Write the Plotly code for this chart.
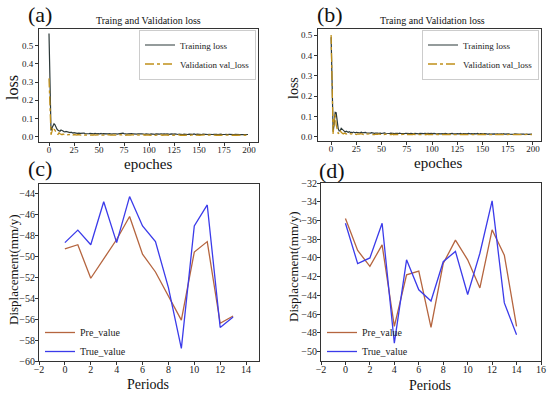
import plotly.graph_objects as go

W, H = 550, 399

# ---------------- data ----------------
epochs = list(range(200))

train_a = [.565,.210,.035,.048,.060,.072,.066,.050,.042,.036,.033,.031,.038,.037,.032,.029,.027,.030,.028,.025,
           .024,.023,.026,.022,.021,.023,.020,.021,.019,.021,.020,.019,.020,.018,.019,.021,.018,.017,.019,.018,
           .017,.019,.018,.016,.018,.017,.019,.016,.017,.018,.016,.017,.019,.016,.018,.017,.016,.018,.017,.016,
           .018,.016,.017,.015,.017,.018,.016,.017,.015,.016,.018,.016,.017,.019,.020,.018,.016,.017,.015,.016,
           .017,.015,.016,.018,.016,.015,.017,.016,.015,.017,.016,.014,.016,.017,.015,.016,.014,.016,.015,.017,
           .015,.014,.016,.015,.017,.015,.014,.016,.015,.014,.016,.015,.017,.014,.015,.016,.014,.015,.016,.014,
           .015,.014,.016,.015,.013,.015,.016,.014,.015,.013,.015,.014,.016,.014,.013,.015,.014,.016,.014,.013,
           .015,.014,.013,.015,.014,.016,.014,.013,.015,.014,.013,.015,.014,.013,.015,.014,.013,.014,.015,.013,
           .014,.013,.015,.014,.013,.014,.015,.013,.014,.012,.014,.013,.015,.013,.012,.014,.013,.014,.012,.013,
           .014,.013,.012,.014,.013,.012,.014,.013,.012,.013,.014,.012,.013,.012,.014,.013,.012,.013,.012,.013]

val_a = [.320,.090,.012,.030,.052,.045,.032,.022,.016,.013,.022,.017,.014,.012,.016,.013,.011,.014,.012,.011,
         .013,.011,.014,.012,.010,.013,.011,.012,.010,.013,.011,.012,.010,.011,.013,.010,.012,.011,.010,.012,
         .011,.010,.012,.011,.009,.012,.010,.011,.013,.010,.011,.009,.012,.010,.011,.012,.010,.009,.011,.010,
         .012,.010,.011,.009,.010,.012,.011,.010,.009,.011,.010,.012,.010,.011,.013,.011,.010,.009,.011,.010,
         .011,.009,.010,.012,.010,.009,.011,.010,.012,.009,.010,.011,.009,.010,.012,.010,.009,.011,.010,.009,
         .011,.010,.009,.011,.012,.010,.009,.011,.010,.009,.011,.010,.012,.009,.010,.011,.009,.010,.011,.009,
         .010,.009,.011,.010,.009,.011,.010,.009,.011,.010,.012,.009,.010,.011,.009,.010,.009,.011,.010,.009,
         .011,.009,.010,.011,.009,.010,.012,.010,.009,.011,.010,.009,.010,.011,.009,.010,.011,.009,.010,.009,
         .010,.011,.009,.010,.009,.011,.010,.009,.010,.011,.009,.010,.009,.011,.010,.009,.010,.011,.009,.010,
         .009,.011,.010,.009,.010,.011,.009,.010,.009,.010,.011,.009,.010,.009,.011,.010,.009,.010,.011,.010]

train_b = [.490,.310,.025,.060,.120,.118,.075,.040,.028,.030,.042,.036,.030,.026,.023,.027,.024,.022,.025,.021,
           .022,.020,.023,.021,.019,.022,.020,.021,.019,.020,.022,.019,.020,.018,.021,.019,.018,.020,.019,.018,
           .020,.018,.019,.017,.018,.020,.018,.017,.019,.018,.016,.018,.017,.019,.017,.016,.018,.017,.016,.018,
           .017,.016,.018,.016,.017,.015,.017,.016,.018,.016,.015,.017,.016,.015,.017,.016,.018,.015,.016,.017,
           .015,.016,.014,.016,.015,.017,.015,.014,.016,.015,.014,.016,.015,.017,.014,.015,.016,.014,.015,.016,
           .014,.015,.016,.014,.015,.013,.015,.014,.016,.014,.015,.013,.014,.016,.014,.015,.013,.014,.015,.014,
           .016,.014,.013,.015,.014,.015,.013,.014,.016,.014,.013,.015,.014,.013,.015,.014,.016,.013,.014,.015,
           .013,.014,.015,.013,.014,.016,.014,.013,.015,.014,.013,.014,.015,.013,.014,.013,.015,.014,.013,.014,
           .015,.013,.014,.013,.015,.014,.013,.014,.012,.014,.013,.015,.013,.014,.012,.013,.014,.013,.012,.014,
           .013,.012,.014,.013,.012,.014,.013,.012,.013,.014,.012,.013,.012,.014,.013,.012,.013,.014,.012,.013]

val_b = [.500,.150,.010,.080,.110,.060,.025,.015,.020,.032,.022,.016,.014,.018,.015,.013,.016,.014,.012,.015,
         .013,.015,.012,.014,.013,.011,.014,.012,.013,.015,.012,.013,.011,.014,.012,.013,.011,.012,.014,.012,
         .011,.013,.012,.010,.013,.011,.012,.014,.011,.012,.010,.013,.011,.012,.010,.012,.013,.011,.010,.012,
         .011,.013,.010,.012,.011,.010,.012,.011,.013,.010,.011,.012,.010,.011,.013,.010,.012,.011,.010,.012,
         .010,.011,.013,.010,.011,.012,.010,.011,.010,.012,.011,.010,.012,.011,.010,.013,.011,.010,.012,.010,
         .011,.010,.012,.011,.010,.012,.010,.011,.013,.010,.011,.010,.012,.011,.010,.011,.012,.010,.011,.010,
         .012,.010,.011,.010,.012,.011,.010,.012,.010,.011,.010,.012,.011,.010,.011,.012,.010,.011,.010,.012,
         .010,.011,.012,.010,.011,.010,.012,.011,.010,.011,.010,.012,.010,.011,.010,.012,.011,.010,.011,.010,
         .011,.010,.012,.010,.011,.010,.011,.012,.010,.011,.010,.011,.010,.012,.011,.010,.011,.010,.012,.010,
         .011,.010,.011,.012,.010,.011,.010,.011,.010,.012,.011,.010,.011,.010,.011,.012,.010,.011,.010,.011]

periods_c = list(range(14))
pre_c  = [-49.3, -48.9, -52.1, -50.2, -48.4, -46.2, -49.8, -51.5, -53.8, -56.1, -49.6, -48.6, -56.4, -55.7]
true_c = [-48.7, -47.5, -48.9, -44.8, -48.7, -44.3, -47.1, -48.6, -53.0, -58.8, -47.1, -45.1, -56.8, -55.8]

periods_d = list(range(15))
pre_d  = [-35.8, -39.2, -40.9, -38.6, -47.3, -41.8, -41.4, -47.4, -40.6, -38.1, -40.2, -43.2, -37.0, -39.7, -47.3]
true_d = [-36.3, -40.6, -40.0, -36.3, -49.1, -40.2, -43.4, -44.6, -40.4, -39.3, -43.9, -39.5, -33.9, -44.8, -48.2]

loss_xticks = [0, 25, 50, 75, 100, 125, 150, 175, 200]
loss_yticks = [0.0, 0.1, 0.2, 0.3, 0.4, 0.5]
c_xticks = list(range(-2, 15, 2))
c_yticks = list(range(-60, -43, 2))
d_xticks = list(range(-2, 17, 2))
d_yticks = list(range(-50, -31, 2))

# ---------------- style ----------------
FONT = "Liberation Serif, Times New Roman, serif"
C_TRAIN = "#2b3838"
C_VAL = "#c0901a"
C_PRE = "#b5653f"
C_TRUE = "#3b3bea"
FRAME = "#333333"

def px(x): return x / W
def py(y): return 1 - y / H

fig = go.Figure()

fig.add_trace(go.Scatter(x=epochs, y=train_a, mode="lines", name="Training loss",
                         line=dict(color=C_TRAIN, width=1.2), xaxis="x", yaxis="y", legend="legend"))
fig.add_trace(go.Scatter(x=epochs, y=val_a, mode="lines", name="Validation val_loss",
                         line=dict(color=C_VAL, width=1.3, dash="dashdot"), xaxis="x", yaxis="y", legend="legend"))
fig.add_trace(go.Scatter(x=epochs, y=train_b, mode="lines", name="Training loss",
                         line=dict(color=C_TRAIN, width=1.2), xaxis="x2", yaxis="y2", legend="legend2"))
fig.add_trace(go.Scatter(x=epochs, y=val_b, mode="lines", name="Validation val_loss",
                         line=dict(color=C_VAL, width=1.3, dash="dashdot"), xaxis="x2", yaxis="y2", legend="legend2"))
fig.add_trace(go.Scatter(x=periods_c, y=pre_c, mode="lines", name="Pre_value",
                         line=dict(color=C_PRE, width=1.3), xaxis="x3", yaxis="y3", legend="legend3"))
fig.add_trace(go.Scatter(x=periods_c, y=true_c, mode="lines", name="True_value",
                         line=dict(color=C_TRUE, width=1.3), xaxis="x3", yaxis="y3", legend="legend3"))
fig.add_trace(go.Scatter(x=periods_d, y=pre_d, mode="lines", name="Pre_value",
                         line=dict(color=C_PRE, width=1.3), xaxis="x4", yaxis="y4", legend="legend4"))
fig.add_trace(go.Scatter(x=periods_d, y=true_d, mode="lines", name="True_value",
                         line=dict(color=C_TRUE, width=1.3), xaxis="x4", yaxis="y4", legend="legend4"))

def ax(domain, rng, ticks, anchor, size, standoff, fmt=None):
    d = dict(domain=domain, range=rng, tickvals=ticks, anchor=anchor, automargin=False,
             showgrid=False, zeroline=False, showline=True, mirror=True,
             linecolor=FRAME, linewidth=1, ticks="outside", ticklen=3,
             ticklabelstandoff=standoff,
             tickcolor=FRAME, tickwidth=1, tickfont=dict(family=FONT, size=size, color="#222"))
    if fmt:
        d["tickformat"] = fmt
    return d

fig.update_layout(
    width=W, height=H, margin=dict(l=0, r=0, t=0, b=0, pad=0, autoexpand=False),
    paper_bgcolor="white", plot_bgcolor="white",
    xaxis=ax([px(39), px(258)], [-10, 209], loss_xticks, "y", 9, -4),
    yaxis=ax([py(142), py(29)], [-0.028, 0.59], loss_yticks, "x", 9, 0, ".1f"),
    xaxis2=ax([px(318), px(541)], [-13, 208], loss_xticks, "y2", 9, -4),
    yaxis2=ax([py(141), py(29)], [-0.021, 0.53], loss_yticks, "x2", 9, 0, ".1f"),
    xaxis3=ax([px(39), px(259)], [-2, 15], c_xticks, "y3", 10, -4),
    yaxis3=ax([py(361), py(184)], [-60, -43.1], c_yticks, "x3", 10, -2),
    xaxis4=ax([px(321), px(541)], [-2, 16], d_xticks, "y4", 10, -4),
    yaxis4=ax([py(361), py(183)], [-51, -32], d_yticks, "x4", 10, -2),
    legend=dict(x=px(256), y=py(29.5), xanchor="right", yanchor="top",
                bordercolor="#cccccc", borderwidth=1, bgcolor="rgba(255,255,255,0.85)",
                font=dict(family=FONT, size=9, color="#222"), tracegroupgap=0),
    legend2=dict(x=px(539), y=py(29.5), xanchor="right", yanchor="top",
                 bordercolor="#cccccc", borderwidth=1, bgcolor="rgba(255,255,255,0.85)",
                 font=dict(family=FONT, size=9, color="#222"), tracegroupgap=0),
    legend3=dict(x=px(40), y=py(318), xanchor="left", yanchor="top",
                 bgcolor="rgba(0,0,0,0)", borderwidth=0,
                 font=dict(family=FONT, size=10, color="#222"), tracegroupgap=0),
    legend4=dict(x=px(322), y=py(318), xanchor="left", yanchor="top",
                 bgcolor="rgba(0,0,0,0)", borderwidth=0,
                 font=dict(family=FONT, size=10, color="#222"), tracegroupgap=0),
    showlegend=True,
)

def note(text, x, y, size, angle=0):
    fig.add_annotation(text=text, x=px(x), y=py(y), xref="paper", yref="paper",
                       xanchor="center", yanchor="middle", showarrow=False, textangle=angle,
                       font=dict(family=FONT, size=size, color="#111"))

note("(a)", 40, 14, 22)
note("(b)", 330, 14, 22)
note("(c)", 40, 168, 22)
note("(d)", 332, 170, 22)
note("Traing and Validation loss", 148, 21, 10)
note("Traing and Validation loss", 432, 21, 10)
note("loss", 12, 88, 16, -90)
note("loss", 293, 88, 14, -90)
note("epoches", 148, 164, 15)
note("epoches", 438, 163, 15)
note("Displacement(mm/y)", 13, 270, 13, -90)
note("Displacement(mm/y)", 293, 267, 13, -90)
note("Periods", 148, 384, 14)
note("Periods", 430, 385, 14)

fig.write_html("out.html", config={"displayModeBar": False},
               post_script="document.body.style.margin='0';document.body.style.overflow='hidden';")
